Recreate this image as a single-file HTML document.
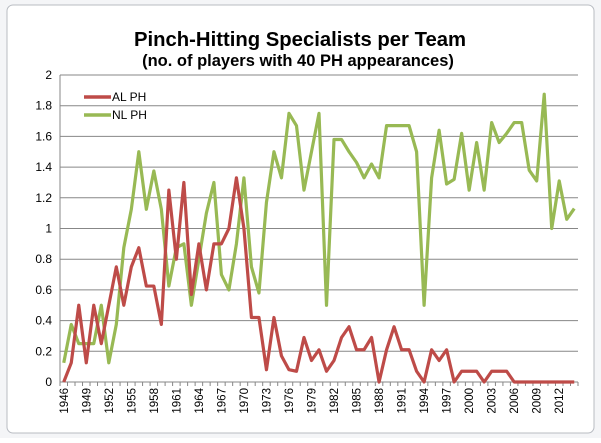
<!DOCTYPE html>
<html><head><meta charset="utf-8"><style>
body{margin:0;background:#fff;width:601px;height:438px;overflow:hidden;font-family:"Liberation Sans",sans-serif}
</style></head><body>
<svg width="601" height="438">
<rect x="0" y="0" width="601" height="438" fill="#f4f5f7"/>
<rect x="7" y="5" width="587" height="428" rx="6" fill="#fff" stroke="#b8bcc2"/>
<text x="300" y="46" text-anchor="middle" font-size="20.3" font-weight="bold">Pinch-Hitting Specialists per Team</text>
<text x="298" y="66" text-anchor="middle" font-size="16.5" font-weight="bold">(no. of players with 40 PH appearances)</text>
<g id="grid"></g><g id="axes"></g><g id="series"></g>
<g>
<line x1="84" y1="97" x2="111" y2="97" stroke="#be4b48" stroke-width="3.5"/>
<text x="112" y="101" font-size="12">AL PH</text>
<line x1="84" y1="115" x2="111" y2="115" stroke="#98b954" stroke-width="3.5"/>
<text x="112" y="119" font-size="12">NL PH</text>
</g>
</svg>
<script>
const years=[];for(let y=1946;y<=2014;y++)years.push(y);
const alValues=[0,0.125,0.5,0.125,0.5,0.25,0.5,0.75,0.5,0.75,0.875,0.625,0.625,0.375,1.25,0.8,1.3,0.57,0.9,0.6,0.9,0.9,1.0,1.33,1.0,0.42,0.42,0.08,0.42,0.17,0.08,0.07,
0.29,0.14,0.21,0.07,0.14,0.29,0.36,0.21,0.21,0.29,0,0.21,0.36,0.21,0.21,0.07,0,0.21,0.14,0.21,0,0.07,0.07,0.07,0,0.07,0.07,0.07,0,0,0,0,0,0,0,0,0];
const nlValues=[0.125,0.375,0.25,0.25,0.25,0.5,0.125,0.375,0.875,1.125,1.5,1.125,1.375,1.125,0.625,0.875,0.9,0.5,0.8,1.1,1.3,0.7,0.6,0.9,1.33,0.75,0.58,1.17,1.5,1.33,1.75,1.67,
1.25,1.5,1.75,0.5,1.58,1.58,1.5,1.43,1.33,1.42,1.33,1.67,1.67,1.67,1.67,1.5,0.5,1.33,1.64,1.29,1.32,1.62,1.25,1.56,1.25,1.69,1.56,1.62,1.69,1.69,1.38,1.31,1.875,1.0,1.31,1.06,1.13];
const yTicks=[0,0.2,0.4,0.6,0.8,1,1.2,1.4,1.6,1.8,2];
const NS="http://www.w3.org/2000/svg";
const L=60,R=578,T=75,B=382;
const step=(R-L)/years.length;
const xs=i=>L+step*(i+0.5);
const ys=v=>B-(v/2)*(B-T);
function mk(t,a,p){const e=document.createElementNS(NS,t);for(const k in a)e.setAttribute(k,a[k]);p.appendChild(e);return e;}
const grid=document.getElementById('grid'),axes=document.getElementById('axes'),ser=document.getElementById('series');
yTicks.forEach(v=>{
 const g=mk('line',{x1:L,x2:R,y1:ys(v),y2:ys(v),stroke:'#878787','stroke-width':1},grid);
 
 
 const t=mk('text',{x:L-8,y:ys(v)+4,'text-anchor':'end','font-size':12},axes);
 
 
 t.textContent=String(v);
});
const ax=mk('line',{x1:L,x2:R,y1:B,y2:B,stroke:'#878787'},axes);


const ay=mk('line',{x1:L,x2:L,y1:T,y2:B,stroke:'#878787'},axes);


for(let i=0;i<=years.length;i++){
 const tk=mk('line',{x1:L+step*i,x2:L+step*i,y1:B,y2:B+4,stroke:'#878787'},axes);
 
 
}
years.forEach((y,i)=>{
 if((y-1946)%3)return;
 const x=xs(i)+4,yy=B+6;
 const t=mk('text',{x:x,y:yy,'text-anchor':'end','font-size':11.5,transform:`rotate(-90 ${x} ${yy})`},axes);
 
 
 t.textContent=String(y);
});
function line(vals,color,name){
 const p=mk('polyline',{points:vals.map((v,i)=>xs(i)+','+ys(v)).join(' '),fill:'none',stroke:color,'stroke-width':3.2,'stroke-linejoin':'round'},ser);
 
 
}
line(nlValues,'#98b954','nl-ph-line');
line(alValues,'#be4b48','al-ph-line');
</script>
</body></html>
